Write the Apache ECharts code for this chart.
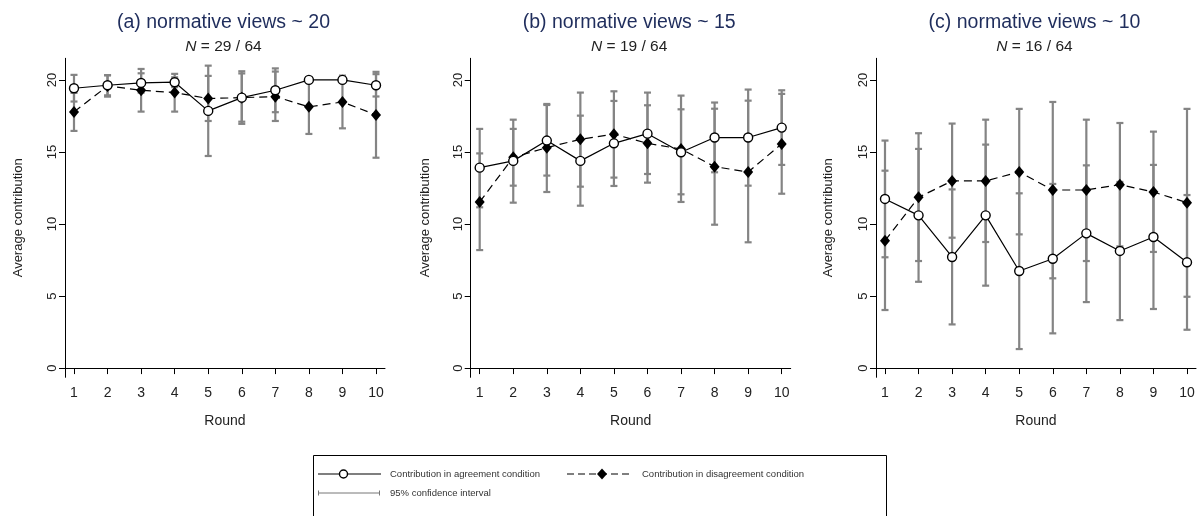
<!DOCTYPE html>
<html>
<head>
<meta charset="utf-8">
<script src="https://cdn.jsdelivr.net/npm/echarts@6/dist/echarts.min.js"></script>
<style>
  html, body { margin: 0; padding: 0; background: #fff; }
  #chart { width: 1200px; height: 516px; }
</style>
</head>
<body>
<div id="chart"></div>
<script>
// Rounds of the public goods game
const rounds = [1, 2, 3, 4, 5, 6, 7, 8, 9, 10];
const yTicks = [0, 5, 10, 15, 20];

const panelTitles = ['(a) normative views ~ 20', '(b) normative views ~ 15', '(c) normative views ~ 10'];
const panelN = ['29 / 64', '19 / 64', '16 / 64'];

// (a) normative views ~ 20
const agrA   = [19.42, 19.63, 19.79, 19.84, 17.85, 18.77, 19.28, 20.00, 20.00, 19.63];
const agrLoA = [18.50, 18.93, 19.12, 19.50, 14.72, 16.95, 17.76, 20.00, 20.00, 18.85];
const agrHiA = [20.35, 20.33, 20.46, 20.18, 20.99, 20.60, 20.80, 20.00, 20.00, 20.40];
const disA   = [17.78, 19.58, 19.28, 19.12, 18.71, 18.77, 18.84, 18.13, 18.47, 17.57];
const disLoA = [16.46, 18.84, 17.80, 17.80, 17.15, 17.10, 17.15, 16.25, 16.64, 14.60];
const disHiA = [19.10, 20.32, 20.76, 20.42, 20.28, 20.45, 20.58, 20.00, 20.30, 20.56];

// (b) normative views ~ 15
const agrB   = [13.91, 14.38, 15.79, 14.38, 15.60, 16.27, 14.98, 16.00, 16.00, 16.69];
const agrLoB = [11.16, 11.48, 13.36, 11.27, 12.64, 13.47, 12.06, 13.59, 12.66, 14.10];
const agrHiB = [16.60, 17.24, 18.26, 17.52, 18.54, 19.12, 17.96, 18.43, 19.33, 19.28];
const disB   = [11.53, 14.63, 15.30, 15.88, 16.23, 15.60, 15.20, 13.98, 13.61, 15.56];
const disLoB = [ 8.19, 12.66, 12.22, 12.59, 13.22, 12.87, 11.53,  9.95,  8.73, 12.10];
const disHiB = [14.90, 16.60, 18.33, 19.12, 19.21, 18.24, 18.91, 18.00, 18.56, 19.03];

// (c) normative views ~ 10
const agrC   = [11.74, 10.60,  7.71, 10.60,  6.74,  7.59,  9.35,  8.13,  9.10,  7.34];
const agrLoC = [ 7.69,  5.99,  3.03,  5.72,  1.32,  2.41,  4.58,  3.33,  4.10,  2.66];
const agrHiC = [15.79, 15.21, 12.40, 15.51, 12.13, 12.78, 14.07, 12.92, 14.10, 12.01];
const disC   = [ 8.84, 11.85, 12.99, 12.99, 13.61, 12.36, 12.36, 12.73, 12.22, 11.48];
const disLoC = [ 4.03,  7.43,  9.05,  8.75,  9.28,  6.23,  7.43,  8.45,  8.06,  4.95];
const disHiC = [13.70, 16.30, 16.97, 17.24, 17.99, 18.47, 17.24, 17.01, 16.41, 17.99];

const panels = [
  { agr: agrA, agrLo: agrLoA, agrHi: agrHiA, dis: disA, disLo: disLoA, disHi: disHiA },
  { agr: agrB, agrLo: agrLoB, agrHi: agrHiB, dis: disB, disLo: disLoB, disHi: disHiB },
  { agr: agrC, agrLo: agrLoC, agrHi: agrHiC, dis: disC, disLo: disLoC, disHi: disHiC }
];

const FONT = '"Liberation Sans", Arial, sans-serif';
const CI_COLOR = '#848484';
const gridLefts = [65, 470.7, 876];
const nameGaps = [40, 39, 41];
const GRID_W = 320, GRID_TOP = 58.3, GRID_H = 319;

// Vertical confidence interval with small caps at both ends
function errorBar(params, api) {
  const x = api.value(0);
  const lo = api.coord([x, api.value(1)]);
  const hi = api.coord([x, api.value(2)]);
  const hw = 3.5;
  const st = { stroke: CI_COLOR, lineWidth: 2.2 };
  return {
    type: 'group',
    children: [
      { type: 'line', shape: { x1: lo[0], y1: lo[1], x2: hi[0], y2: hi[1] }, style: st },
      { type: 'line', shape: { x1: lo[0] - hw, y1: lo[1], x2: lo[0] + hw, y2: lo[1] }, style: st },
      { type: 'line', shape: { x1: hi[0] - hw, y1: hi[1], x2: hi[0] + hw, y2: hi[1] }, style: st }
    ]
  };
}

const grids = [], xAxes = [], yAxes = [], series = [], graphics = [];

panels.forEach((p, i) => {
  grids.push({ left: gridLefts[i], top: GRID_TOP, width: GRID_W, height: GRID_H, containLabel: false });
  xAxes.push({
    type: 'value', gridIndex: i, min: 0.732, max: 10.268,
    name: 'Round', nameLocation: 'middle', nameGap: 37,
    nameTextStyle: { fontFamily: FONT, fontSize: 14, color: '#222' },
    axisLine: { show: true, lineStyle: { color: '#000', width: 1 } },
    axisTick: { show: true, length: 6, customValues: rounds, lineStyle: { color: '#000' } },
    axisLabel: { customValues: rounds, margin: 9, fontFamily: FONT, fontSize: 14, color: '#222' },
    splitLine: { show: false }
  });
  yAxes.push({
    type: 'value', gridIndex: i, min: -0.64, max: 21.5,
    name: 'Average contribution', nameLocation: 'middle', nameGap: nameGaps[i],
    nameTextStyle: { fontFamily: FONT, fontSize: 13, color: '#222' },
    axisLine: { show: true, lineStyle: { color: '#000', width: 1 } },
    axisTick: { show: true, length: 6, customValues: yTicks, lineStyle: { color: '#000' } },
    axisLabel: { customValues: yTicks, rotate: 90, margin: 6, fontFamily: FONT, fontSize: 13, color: '#222' },
    splitLine: { show: false }
  });

  series.push({
    type: 'custom', xAxisIndex: i, yAxisIndex: i, renderItem: errorBar, z: 1, silent: true,
    encode: { x: 0, y: [1, 2] },
    data: rounds.map((r, k) => [r, p.disLo[k], p.disHi[k]])
  });
  series.push({
    type: 'custom', xAxisIndex: i, yAxisIndex: i, renderItem: errorBar, z: 1, silent: true,
    encode: { x: 0, y: [1, 2] },
    data: rounds.map((r, k) => [r, p.agrLo[k], p.agrHi[k]])
  });
  series.push({
    type: 'line', xAxisIndex: i, yAxisIndex: i, z: 3, silent: true,
    data: rounds.map((r, k) => [r, p.dis[k]]),
    lineStyle: { color: '#000', width: 1.2, type: [8, 5] },
    symbol: 'diamond', symbolSize: [10, 12],
    itemStyle: { color: '#000', borderColor: '#000', borderWidth: 0 }
  });
  series.push({
    type: 'line', xAxisIndex: i, yAxisIndex: i, z: 4, silent: true,
    data: rounds.map((r, k) => [r, p.agr[k]]),
    lineStyle: { color: '#000', width: 1.2 },
    symbol: 'circle', symbolSize: 9,
    itemStyle: { color: '#fff', borderColor: '#000', borderWidth: 1.4 }
  });

  const cx = gridLefts[i] + GRID_W / 2 - 1.5;
  graphics.push({
    type: 'text', x: cx, y: 23,
    style: { text: panelTitles[i], fontFamily: FONT, fontSize: 19.5, fill: '#1f2d5c', align: 'center', verticalAlign: 'middle' }
  });
  graphics.push({
    type: 'text', x: cx, y: 46.5,
    style: {
      text: '{i|N} = ' + panelN[i], fontFamily: FONT, fontSize: 15.5, fill: '#222', align: 'center', verticalAlign: 'middle',
      rich: { i: { fontStyle: 'italic', fontFamily: FONT, fontSize: 15.5, fill: '#222' } }
    }
  });
});

// Key box below the panels
const legendFont = { fontFamily: FONT, fontSize: 9.5, fill: '#333', verticalAlign: 'middle' };
graphics.push(
  { type: 'rect', shape: { x: 313.5, y: 455.5, width: 573, height: 80 }, style: { fill: 'none', stroke: '#000', lineWidth: 1 } },
  { type: 'line', shape: { x1: 318, y1: 474, x2: 381, y2: 474 }, style: { stroke: '#000', lineWidth: 1.2 } },
  { type: 'circle', shape: { cx: 343.5, cy: 474, r: 4 }, style: { fill: '#fff', stroke: '#000', lineWidth: 1.4 } },
  { type: 'text', x: 390, y: 474, style: Object.assign({ text: 'Contribution in agreement condition' }, legendFont) },
  { type: 'line', shape: { x1: 567, y1: 474, x2: 633, y2: 474 }, style: { stroke: '#000', lineWidth: 1.2, lineDash: [7, 4] } },
  { type: 'polygon', shape: { points: [[602, 468.5], [607, 474], [602, 479.5], [597, 474]] }, style: { fill: '#000' } },
  { type: 'text', x: 642, y: 474, style: Object.assign({ text: 'Contribution in disagreement condition' }, legendFont) },
  { type: 'line', shape: { x1: 318, y1: 493, x2: 380, y2: 493 }, style: { stroke: '#777', lineWidth: 1 } },
  { type: 'line', shape: { x1: 318.5, y1: 490.5, x2: 318.5, y2: 495.5 }, style: { stroke: '#777', lineWidth: 1 } },
  { type: 'line', shape: { x1: 379.5, y1: 490.5, x2: 379.5, y2: 495.5 }, style: { stroke: '#777', lineWidth: 1 } },
  { type: 'text', x: 390, y: 493, style: Object.assign({ text: '95% confidence interval' }, legendFont) }
);

const chart = echarts.init(document.getElementById('chart'), null, { renderer: 'canvas' });
chart.setOption({
  animation: false,
  backgroundColor: '#fff',
  grid: grids,
  xAxis: xAxes,
  yAxis: yAxes,
  series: series,
  graphic: graphics
});
</script>
</body>
</html>
